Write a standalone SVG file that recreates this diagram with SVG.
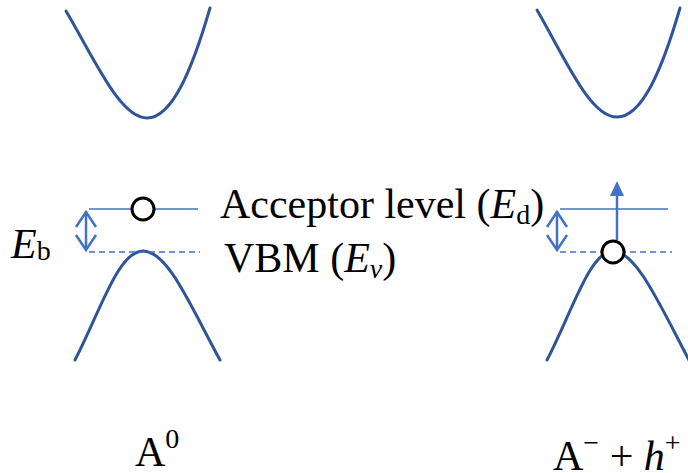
<svg xmlns="http://www.w3.org/2000/svg" width="688" height="473" viewBox="0 0 688 473">
<style>
.band{fill:none;stroke:#2F5597;stroke-width:3;stroke-linecap:round}
.lvl{fill:none;stroke:#4472C4;stroke-width:1.6}
.dash{fill:none;stroke:#4472C4;stroke-width:1.6;stroke-dasharray:6 4}
.arr{fill:none;stroke:#4472C4;stroke-width:2.5}
.dot{fill:#fff;stroke:#000;stroke-width:3}
text{font-family:"Liberation Serif","Times New Roman",serif;fill:#000}
.lab{font-size:42px}
</style>
<rect width="688" height="473" fill="#fff"/>
<g id="left-conduction-band"><path class="band" d="M66,11 C95,60 120,118 147,118 C172,118 192,70 210,8"/></g>
<g id="left-valence-band"><path class="band" d="M75,360 C100,312 118,251 143,251 C168,251 190,305 220,360"/></g>
<g id="right-conduction-band"><path class="band" d="M537,10 C566,60 590,117 617,117 C642,117 662,70 680,8"/></g>
<g id="right-valence-band"><path class="band" d="M547,360 C572,312 590,251 613,251 C636,251 660,305 690,362"/></g>
<g id="left-levels">
<line class="lvl" x1="89" y1="209" x2="198" y2="209"/>
<line class="dash" x1="89" y1="252" x2="200" y2="252"/>
</g>
<g id="right-levels">
<line class="lvl" x1="560" y1="209" x2="668" y2="209"/>
<line class="dash" x1="560" y1="252" x2="672" y2="252"/>
</g>
<g id="connectors">
<g id="eb-left">
<line class="arr" x1="86" y1="211" x2="86" y2="250"/>
<polyline class="arr" points="76,227 86,212 96,227"/>
<polyline class="arr" points="76,235 86,250 96,235"/>
</g>
<g id="eb-right">
<line class="arr" x1="557" y1="211" x2="557" y2="250"/>
<polyline class="arr" points="547,227 557,212 567,227"/>
<polyline class="arr" points="547,235 557,250 567,235"/>
</g>
<g id="up-arrow">
<line class="arr" x1="617" y1="240" x2="617" y2="195"/>
<polygon points="610,196 624,196 617,181" fill="#4472C4"/>
</g>
</g>
<g id="acceptor-left"><circle class="dot" cx="143" cy="209" r="11"/></g>
<g id="hole-right"><circle class="dot" cx="613" cy="252" r="11"/></g>
<g id="label-eb"><text x="11" y="258" font-size="42"><tspan font-style="italic">E</tspan><tspan font-size="28" dy="2">b</tspan></text></g>
<g id="label-acceptor"><text class="lab" x="220" y="218">Acceptor level (<tspan font-style="italic">E</tspan><tspan font-size="28" dy="6">d</tspan><tspan dy="-6">)</tspan></text></g>
<g id="label-vbm"><text class="lab" x="224" y="272">VBM (<tspan font-style="italic">E</tspan><tspan font-size="28" font-style="italic" dy="6">v</tspan><tspan dy="-6">)</tspan></text></g>
<g id="label-a0"><text class="lab" x="135" y="466">A<tspan font-size="28" dy="-18">0</tspan></text></g>
<g id="label-ah"><text class="lab" x="553" y="470">A<tspan font-size="28" dy="-18">−</tspan><tspan dy="18"> + </tspan><tspan font-style="italic">h</tspan><tspan font-size="28" dy="-18">+</tspan></text></g>
</svg>
